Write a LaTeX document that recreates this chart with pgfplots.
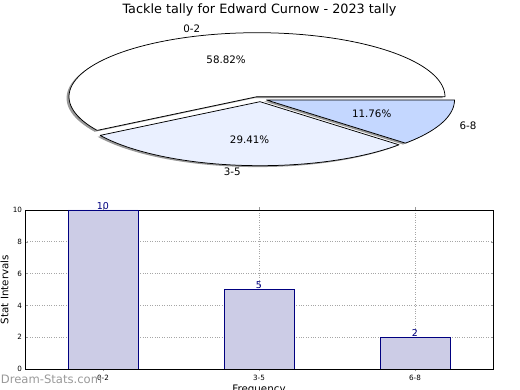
\documentclass[border=0pt]{standalone}
\usepackage{fontspec}
\setmainfont{DejaVu Sans}
\usepackage{pgfplots}
\pgfplotsset{compat=1.18}
\definecolor{slA}{HTML}{FFFFFF}
\definecolor{slB}{HTML}{EAF0FF}
\definecolor{slC}{HTML}{C4D7FF}
\definecolor{barfill}{HTML}{CCCCE6}
\definecolor{navy}{HTML}{000080}
% data: 0-2, 3-5, 6-8
\def\vA{10}\def\vB{5}\def\vC{2}
\pgfmathsetmacro\tot{\vA+\vB+\vC}
\pgfmathsetmacro\aA{360*\vA/\tot}
\pgfmathsetmacro\aB{\aA+360*\vB/\tot}
\pgfmathsetmacro\mA{\aA/2}
\pgfmathsetmacro\mB{(\aA+\aB)/2}
\pgfmathsetmacro\mC{(\aB+360)/2}
\newcommand\pieshadow[4]{%
  \fill[black!40] (axis cs:{#1-0.013},{#2-0.022}) -- plot[domain=#3:#4,samples=90] ({#1-0.013+cos(\x)},{#2-0.022+sin(\x)}) -- cycle;}
\newcommand\pieslice[5]{%
  \filldraw[fill=#5, draw=black, line width=0.75pt, line join=round] (axis cs:#1,#2) -- plot[domain=#3:#4,samples=90] ({#1+cos(\x)},{#2+sin(\x)}) -- cycle;}
\begin{document}
\begin{tikzpicture}
\useasboundingbox (0,0) rectangle (520pt,390pt);
\node[font=\fontsize{12.8}{14}\selectfont] at (259.5pt,380pt) {Tackle tally for Edward Curnow - 2023 tally};
% pie
\begin{axis}[hide axis, scale only axis, clip=false, x=188pt, y=64pt,
  xmin=-1.2, xmax=1.2, ymin=-1.2, ymax=1.2,
  at={(257pt,293.3pt)}, anchor=center]
\pieshadow{0}{0}{0}{\aA}
\pieshadow{0.016}{-0.078}{\aA}{\aB}
\pieshadow{0.0505}{-0.0516}{\aB}{360}
\pieslice{0}{0}{0}{\aA}{slA}
\pieslice{0.016}{-0.078}{\aA}{\aB}{slB}
\pieslice{0.0505}{-0.0516}{\aB}{360}{slC}
\node[anchor=east, inner sep=0pt, font=\fontsize{10.3}{11}\selectfont] at (axis cs:{1.1*cos(\mA)},{1.1*sin(\mA)}) {0-2};
\node[anchor=east, inner sep=0pt, font=\fontsize{10.3}{11}\selectfont] at (axis cs:{0.016+1.1*cos(\mB)},{-0.078+1.1*sin(\mB)}) {3-5};
\node[anchor=west, inner sep=0pt, font=\fontsize{10.3}{11}\selectfont] at (axis cs:{0.0505+1.1*cos(\mC)},{-0.0516+1.1*sin(\mC)}) {6-8};
\node[inner sep=0pt, font=\fontsize{10.3}{11}\selectfont] at (axis cs:{0.6*cos(\mA)},{0.6*sin(\mA)}) {58.82\%};
\node[inner sep=0pt, font=\fontsize{10.3}{11}\selectfont] at (axis cs:{0.016+0.6*cos(\mB)},{-0.078+0.6*sin(\mB)}) {29.41\%};
\node[inner sep=0pt, font=\fontsize{10.3}{11}\selectfont] at (axis cs:{0.0505+0.6*cos(\mC)},{-0.0516+0.6*sin(\mC)}) {11.76\%};
\end{axis}
% bars
\begin{axis}[scale only axis, width=468pt, height=159pt,
  at={(25pt,21pt)}, anchor=south west,
  xmin=-0.5, xmax=2.5, ymin=0, ymax=10,
  xtick={0,1,2}, xticklabels={0-2,3-5,6-8},
  ytick={0,2,4,6,8,10},
  /pgf/number format/assume math mode=true,
  grid=major, grid style={black!35, dotted, line width=0.7pt},
  tick align=inside, major tick length=2.5pt, tick style={black!40},
  axis line style={black, line width=0.8pt},
  tick label style={font=\fontsize{7.2}{8}\selectfont},
  yticklabel style={xshift=0.5pt},
  xticklabel style={yshift=-0.5pt},
  ybar, bar width=70pt,
  xlabel={Frequency}, ylabel={Stat Intervals},
  label style={font=\fontsize{10.3}{11}\selectfont},
  xlabel style={at={(axis description cs:0.5,-0.13)}, anchor=center},
  ylabel style={at={(axis description cs:-0.0438,0.5)}, anchor=center},
  nodes near coords,
  every node near coord/.append style={inner sep=0.5pt, text=navy, font=\fontsize{9.5}{10}\selectfont},
]
\addplot[fill=barfill, draw=navy, line width=0.7pt] coordinates {(0,10) (1,5) (2,2)};
\end{axis}
\node[text=black!40, font=\fontsize{11.6}{12}\selectfont, inner sep=0pt] at (51.5pt,10.5pt) {Dream-Stats.com};
\end{tikzpicture}
\end{document}
